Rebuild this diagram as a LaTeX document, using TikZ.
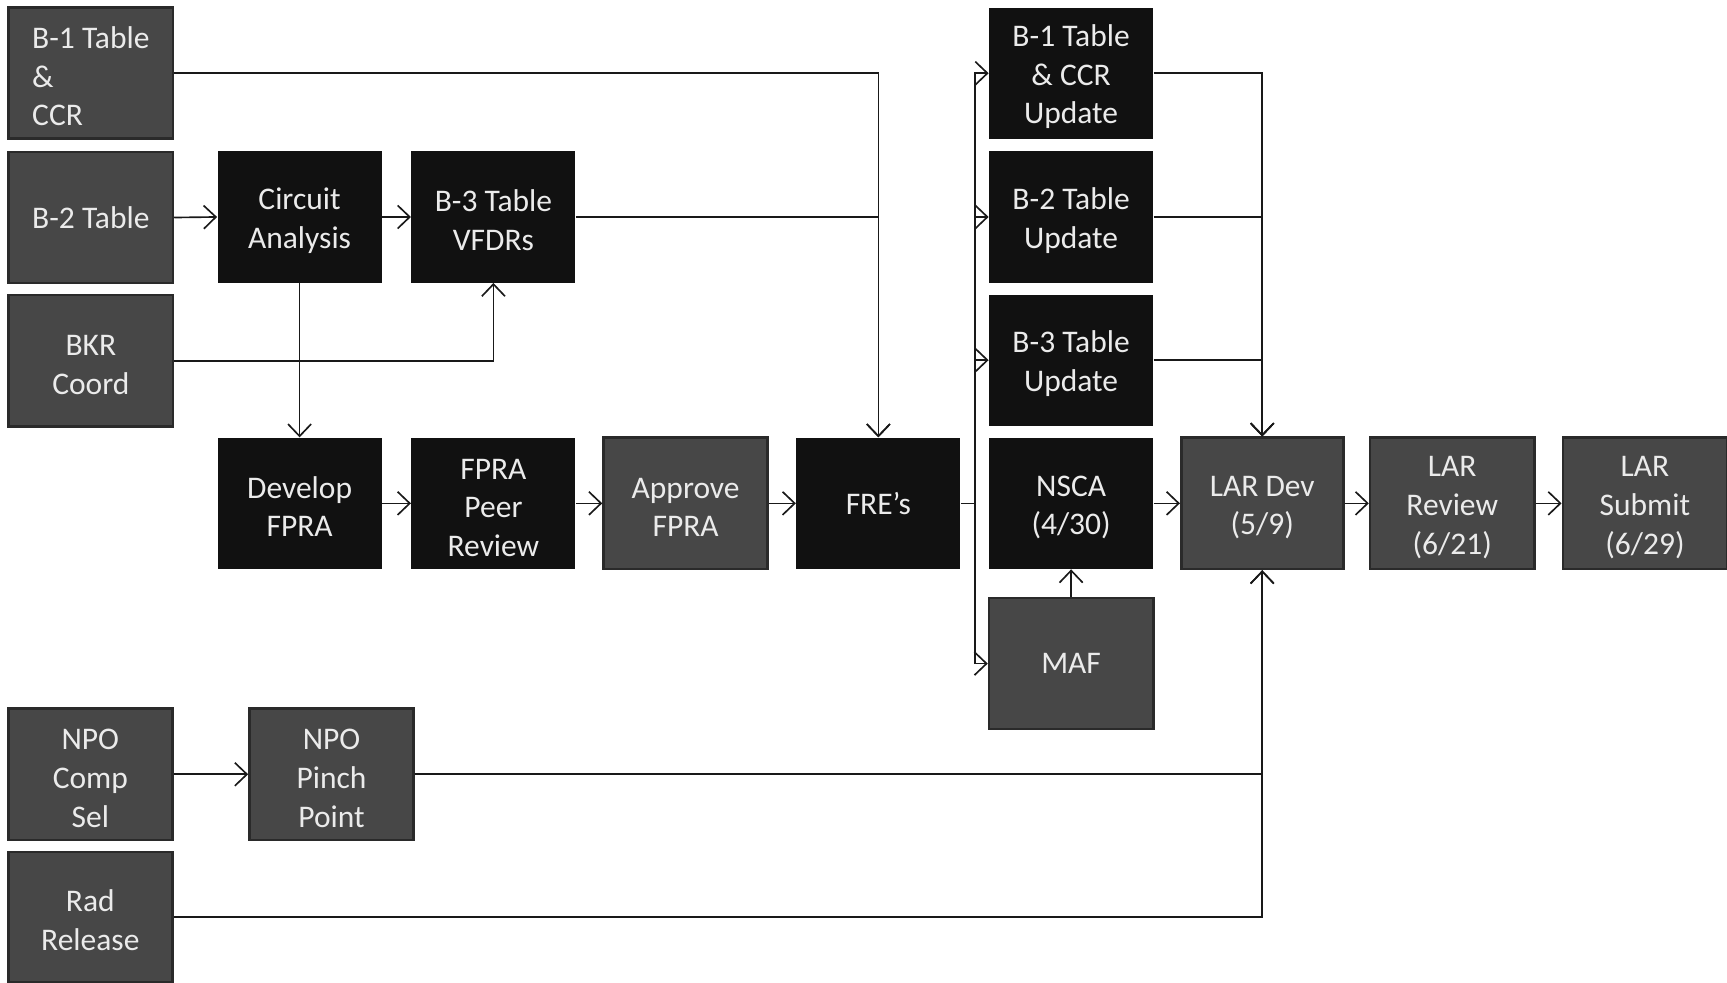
\documentclass[tikz,border=0pt]{standalone}
\usepackage{fontspec}
\setmainfont{Carlito}
\usetikzlibrary{arrows.meta}
\definecolor{boxgray}{HTML}{474747}
\definecolor{boxedge}{HTML}{2A2A2A}
\definecolor{boxblack}{HTML}{111111}
\definecolor{txt}{HTML}{EBEBEB}
\newcommand\firstln{\rule{0pt}{13pt}}
\tikzset{
  box/.style={minimum width=74.5pt, minimum height=59.5pt, inner sep=0pt,
    text=txt, align=center, font=\fontsize{14.3pt}{17.5pt}\selectfont},
  gbox/.style={box, fill=boxgray, draw=boxedge, line width=1.2pt},
  bbox/.style={box, fill=boxblack},
  conn/.style={draw=black!90, line width=0.75pt},
  arr/.style={conn, -{Straight Barb[length=5.5pt,width=10.5pt]}}
}
\begin{document}
\begin{tikzpicture}[x=0.5pt, y=-0.5pt]
\useasboundingbox (0,0) rectangle (1568,892);
% left column
\node[gbox, align=left] (b1) at (82.5,66.5) {\firstln B-1 Table\\\&\\CCR};
\node[gbox] (b2) at (82.5,197.5) {B-2 Table};
\node[gbox] (bkr) at (82.5,327.5) {\firstln BKR\\Coord};
\node[gbox] (npoc) at (82,703) {\firstln NPO\\Comp\\Sel};
\node[gbox, minimum height=59pt] (rad) at (82,832.5) {\firstln Rad\\Release};
% middle
\node[bbox] (ca) at (272,197) {\firstln Circuit\\Analysis};
\node[bbox] (b3) at (448,197) {\firstln B-3 Table\\VFDRs};
\node[bbox] (dev) at (272,457) {\firstln Develop\\FPRA};
\node[bbox] (peer) at (448,457) {\firstln FPRA\\Peer\\Review};
\node[gbox] (appr) at (622.5,457) {\firstln Approve\\FPRA};
\node[bbox] (fre) at (797.5,457) {FRE’s};
\node[gbox] (npop) at (301,703) {\firstln NPO\\Pinch\\Point};
% right column
\node[bbox] (u1) at (972.5,66.5) {\firstln B-1 Table\\\& CCR\\Update};
\node[bbox] (u2) at (972.5,197) {\firstln B-2 Table\\Update};
\node[bbox] (u3) at (972.5,327) {\firstln B-3 Table\\Update};
\node[bbox] (nsca) at (972.5,457) {\firstln NSCA\\(4/30)};
\node[gbox] (maf) at (972.5,602.5) {MAF};
\node[gbox, minimum width=73.5pt] (lard) at (1146,457) {\firstln LAR Dev\\(5/9)};
\node[gbox] (larr) at (1318.5,457) {\firstln LAR\\Review\\(6/21)};
\node[gbox] (lars) at (1493.5,457) {\firstln LAR\\Submit\\(6/29)};
\coordinate (bus) at (885,457);
% connectors
\draw[arr] (b1.east) -| (fre.north);
\draw[arr] (b3.east) -| (fre.north);
\draw[arr] (b2.east) -- (ca.west);
\draw[arr] (ca.east) -- (b3.west);
\draw[arr] (bkr.east) -| (b3.south);
\draw[arr] (ca.south) -- (dev.north);
\draw[arr] (dev.east) -- (peer.west);
\draw[arr] (peer.east) -- (appr.west);
\draw[arr] (appr.east) -- (fre.west);
\draw[conn] (fre.east) -- (bus);
\draw[arr] (bus) |- (u1.west);
\draw[arr] (bus) |- (u2.west);
\draw[arr] (bus) |- (u3.west);
\draw[arr] (bus) |- (maf.west);
\draw[arr] (u1.east) -| (lard.north);
\draw[arr] (u2.east) -| (lard.north);
\draw[arr] (u3.east) -| (lard.north);
\draw[arr] (nsca.east) -- (lard.west);
\draw[arr] (lard.east) -- (larr.west);
\draw[arr] (larr.east) -- (lars.west);
\draw[arr] (maf.north) -- (nsca.south);
\draw[arr] (npoc.east) -- (npop.west);
\draw[arr] (npop.east) -| (lard.south);
\draw[arr] (rad.east) -| (lard.south);
\end{tikzpicture}
\end{document}
